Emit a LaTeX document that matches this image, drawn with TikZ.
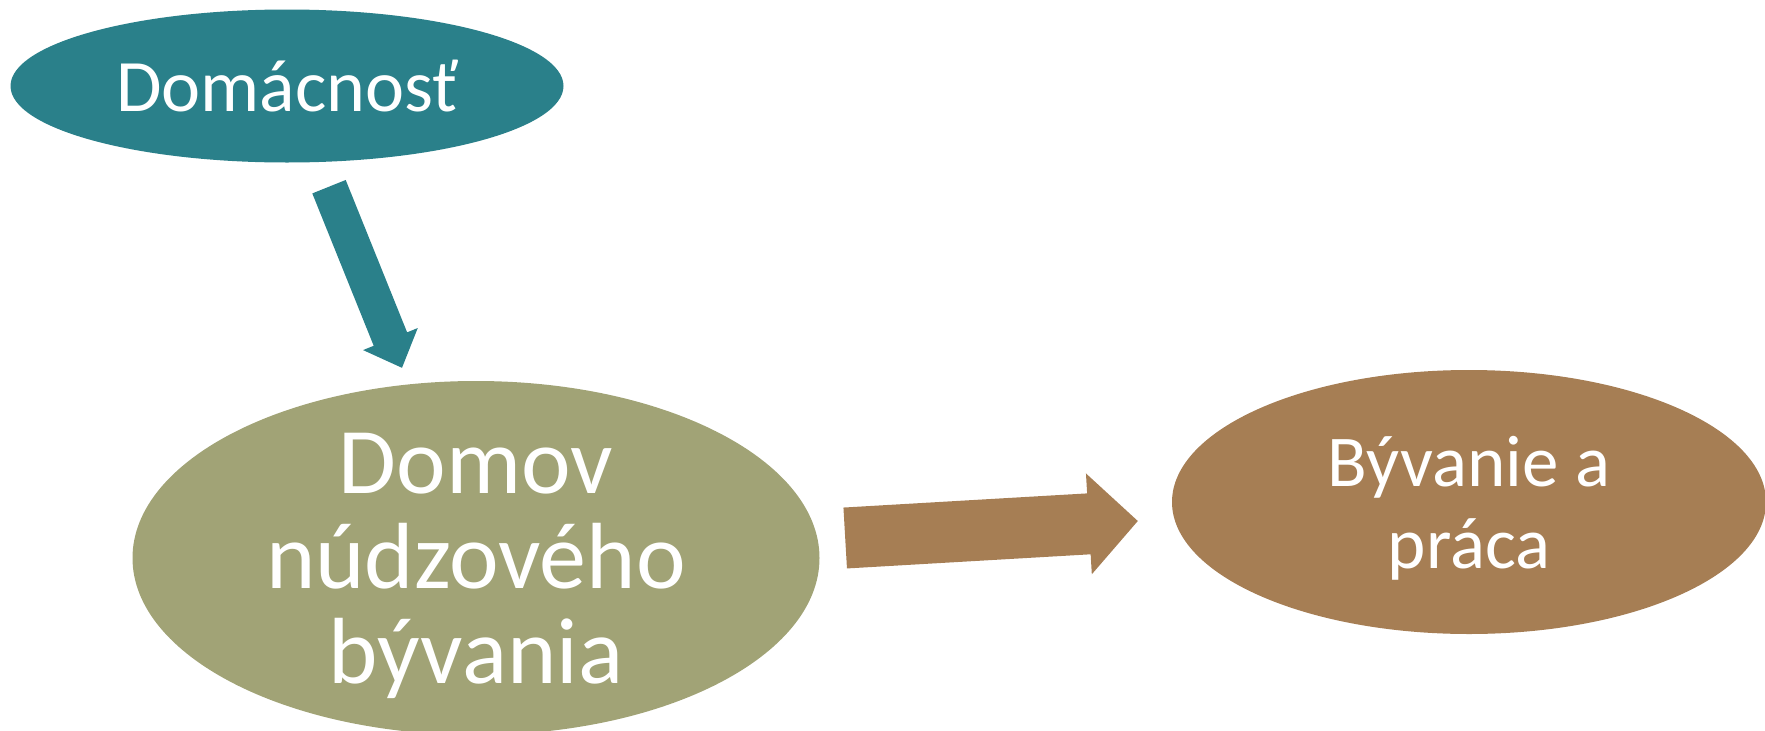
\documentclass[tikz,border=0pt]{standalone}
\usepackage{fontspec}
\setmainfont{Carlito}
\usetikzlibrary{shapes.geometric,calc,positioning}
\definecolor{tealc}{HTML}{2A808A}
\definecolor{olivec}{HTML}{A1A376}
\definecolor{brownc}{HTML}{A67E54}
% block arrow: tail, tip, half shaft, half head, head length, colour
\newcommand{\blockarr}[6]{%
\coordinate (#1h) at ($(#2)!#5!(#1)$);
\fill[#6] ($(#1)!#3!90:(#2)$) -- ($(#1h)!#3!90:(#2)$) -- ($(#1h)!#4!90:(#2)$) -- (#2)
  -- ($(#1h)!#4!-90:(#2)$) -- ($(#1h)!#3!-90:(#2)$) -- ($(#1)!#3!-90:(#2)$) -- cycle;}

\begin{document}
\begin{tikzpicture}[x=1pt,y=-1pt,
  oval/.style={ellipse,inner sep=0pt,text=white,align=center}]
\useasboundingbox (0,0) rectangle (1765,731);
\clip (0,0) rectangle (1765,731);
\node[oval,fill=tealc,minimum width=553pt,minimum height=153pt,font=\fontsize{74}{88}\selectfont] (dom) at (287,86) {Domácnosť};
\node[oval,fill=olivec,minimum width=687pt,minimum height=348pt,text depth=0pt,font=\fontsize{94}{95}\selectfont] (ndb) at (476,558) {Domov\\núdzového\\bývania};
\node[oval,fill=brownc,minimum width=594pt,minimum height=264pt,text depth=0pt,font=\fontsize{73}{82}\selectfont] (bp) at (1469,502) {Bývanie a\\práca};
\coordinate (a1s) at ($(dom.south)+(42,24)$);
\coordinate (a1e) at ($(ndb.north)+(-74,-13)$);
\coordinate (a2s) at ($(ndb.east)+(25.5,-20)$);
\coordinate (a2e) at ($(bp.west)+(-34,19)$);
\blockarr{a1s}{a1e}{18pt}{29.5pt}{31pt}{tealc}
\blockarr{a2s}{a2e}{30.5pt}{50.5pt}{49pt}{brownc}
\end{tikzpicture}
\end{document}
